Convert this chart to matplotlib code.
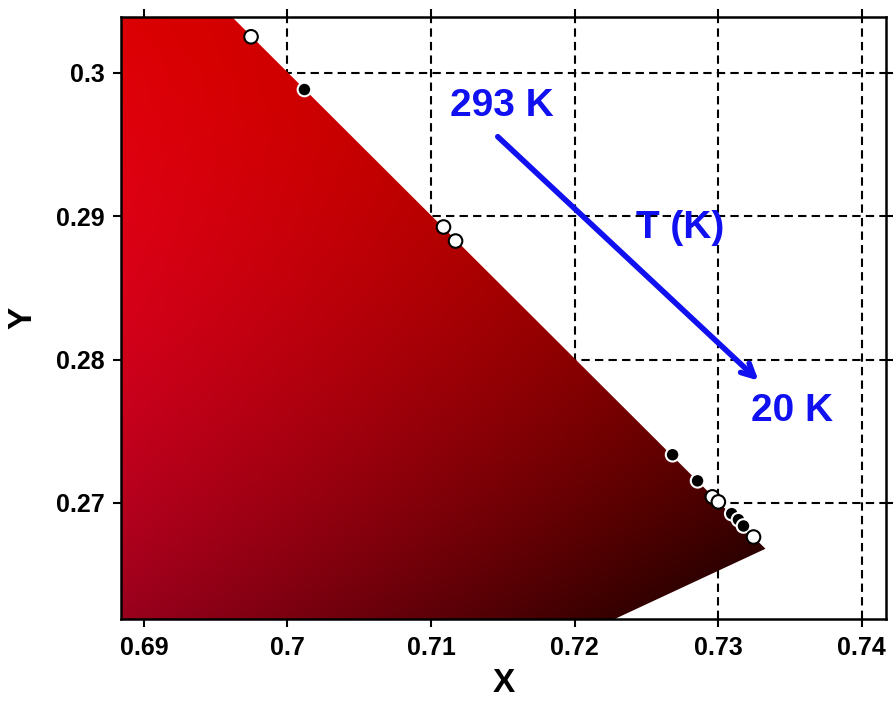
import numpy as np
import matplotlib
matplotlib.use("Agg")
import matplotlib.pyplot as plt
from matplotlib.patches import Polygon
from matplotlib.colors import to_rgb

plt.rcParams['font.family'] = ['Liberation Sans', 'DejaVu Sans']
plt.rcParams['font.weight'] = 'bold'

# ---- data ----
cie_x = [0.69746, 0.70118, 0.71087, 0.71171, 0.72683, 0.72857,
         0.72960, 0.73002, 0.73095, 0.73142, 0.73177, 0.73247]
cie_y = [0.30252, 0.29884, 0.28925, 0.28827, 0.27336, 0.27154,
         0.27042, 0.27007, 0.26925, 0.26883, 0.26839, 0.26762]
filled = [False, True, False, False, True, True,
          False, False, True, True, True, False]

# spectral locus (x + y = 1 edge) and line of purples in this corner
locus_x = [0.6700, 0.7333]
locus_y = [0.3300, 0.2668]
purple_x = [0.7333, 0.6900]
purple_y = [0.2668, 0.2466]

xticks = [0.69, 0.70, 0.71, 0.72, 0.73, 0.74]
xticklabels = ['0.69', '0.7', '0.71', '0.72', '0.73', '0.74']
yticks = [0.27, 0.28, 0.29, 0.30]
yticklabels = ['0.27', '0.28', '0.29', '0.3']
xlim = (0.6884, 0.7417)
ylim = (0.2619, 0.3039)

# colour anchors for the gamut gradient
anchors = [
    (0.6884, 0.3039, '#e00000'),
    (0.6960, 0.3039, '#d60000'),
    (0.7010, 0.2990, '#c80000'),
    (0.7100, 0.2890, '#b20000'),
    (0.7200, 0.2790, '#8a0000'),
    (0.7270, 0.2725, '#5e0000'),
    (0.7333, 0.2668, '#320000'),
    (0.6884, 0.2900, '#d6000a'),
    (0.6884, 0.2800, '#cc0020'),
    (0.6884, 0.2730, '#c40028'),
    (0.6884, 0.2660, '#a8001c'),
    (0.6884, 0.2619, '#940016'),
    (0.7000, 0.2619, '#7e0012'),
    (0.7100, 0.2619, '#5c000a'),
    (0.7228, 0.2619, '#2e0000'),
    (0.7000, 0.2850, '#c0000c'),
    (0.7000, 0.2720, '#a80012'),
    (0.7100, 0.2750, '#980006'),
    (0.7150, 0.2680, '#700004'),
    (0.7220, 0.2690, '#4e0000'),
]

fig = plt.figure(figsize=(8.93, 7.02), dpi=100)
ax = fig.add_axes([121/893, 1-619/702, 765/893, 602/702])
ax.set_xlim(*xlim)
ax.set_ylim(*ylim)
ax.set_axisbelow(True)

# smooth gradient: quadratic least-squares fit per colour channel
def basis(u, v):
    return np.stack([np.ones_like(u), u, v, u * u, u * v, v * v], axis=-1)

ax_a = np.array([a[0] for a in anchors])
ay_a = np.array([a[1] for a in anchors])
cols = np.array([to_rgb(a[2]) for a in anchors])
u0 = (ax_a - 0.71) / 0.02
v0 = (ay_a - 0.283) / 0.02
B = basis(u0, v0)
coef, *_ = np.linalg.lstsq(B, cols, rcond=None)

nx, ny = 400, 320
gx = np.linspace(xlim[0], xlim[1], nx)
gy = np.linspace(ylim[0], ylim[1], ny)
GX, GY = np.meshgrid(gx, gy)
img = basis((GX - 0.71) / 0.02, (GY - 0.283) / 0.02) @ coef
img = np.clip(img, 0, 1)

poly_pts = list(zip(locus_x, locus_y)) + list(zip(purple_x[1:], purple_y[1:])) + [(0.6700, 0.2400)]
patch = Polygon(poly_pts, closed=True, transform=ax.transData, facecolor='none', edgecolor='none')
ax.add_patch(patch)
im = ax.imshow(img, extent=(xlim[0], xlim[1], ylim[0], ylim[1]), origin='lower',
               aspect='auto', interpolation='bilinear', zorder=1)
im.set_clip_path(patch)

# grid
ax.grid(True, color='black', linestyle=(0, (4, 2.5)), linewidth=1.5)

# markers
fc = ['black' if f else 'white' for f in filled]
ec = ['white' if f else 'black' for f in filled]
ax.scatter(cie_x, cie_y, s=95, c=fc, edgecolors=ec, linewidths=1.5, zorder=5)

# annotations
blue = '#1010f0'
ax.annotate('', xy=(0.73282, 0.27853), xytext=(0.71465, 0.29555),
            arrowprops=dict(arrowstyle='->,head_length=0.9,head_width=0.45',
                            color=blue, lw=4, shrinkA=0, shrinkB=0), zorder=6)
ax.text(0.71495, 0.29769, '293 K', color=blue, fontsize=28, fontweight='bold',
        ha='center', va='center', zorder=6)
ax.text(0.72739, 0.28916, 'T (K)', color=blue, fontsize=28, fontweight='bold',
        ha='center', va='center', zorder=6)
ax.text(0.73514, 0.27643, '20 K', color=blue, fontsize=28, fontweight='bold',
        ha='center', va='center', zorder=6)

# axes styling
ax.set_xticks(xticks)
ax.set_xticklabels(xticklabels)
ax.set_yticks(yticks)
ax.set_yticklabels(yticklabels)
ax.tick_params(direction='out', length=6, width=1.5, labelsize=18,
               top=True, right=True, pad=6)
for s in ax.spines.values():
    s.set_linewidth(1.8)
    s.set_zorder(7)
ax.set_xlabel('X', fontsize=24, fontweight='bold', labelpad=6)
ax.set_ylabel('Y', fontsize=24, fontweight='bold', labelpad=12)

fig.savefig('out.png', dpi=100)
